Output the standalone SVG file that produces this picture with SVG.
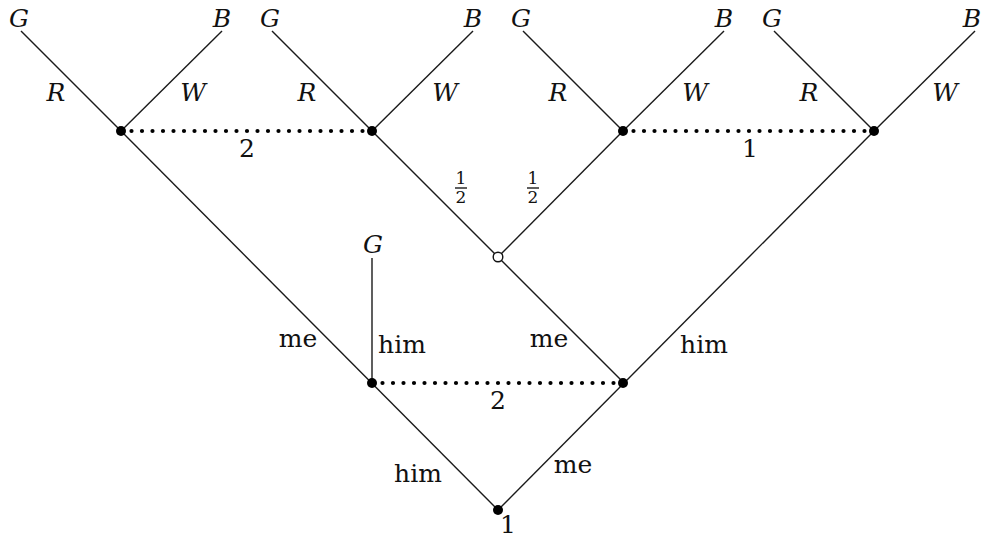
<svg xmlns="http://www.w3.org/2000/svg" width="985" height="540" viewBox="0 0 985 540">
<style>
.e{stroke:#1a1a1a;stroke-width:1.4;fill:none}
.d{stroke:#000;stroke-width:4.2;stroke-linecap:round;stroke-dasharray:0 10.5;fill:none}
.t{font-family:'DejaVu Serif','Liberation Serif',serif;font-size:25px;fill:#111;text-anchor:middle}
.i{font-style:italic}
.f{font-size:17px}
.dot{fill:#000}
</style>
<rect width="985" height="540" fill="#fff"/>
<g id="connectors">
<line class="e" x1="121" y1="131" x2="21" y2="31"/>
<line class="e" x1="121" y1="131" x2="222" y2="31"/>
<line class="e" x1="372" y1="131" x2="272" y2="31"/>
<line class="e" x1="372" y1="131" x2="473" y2="31"/>
<line class="e" x1="623" y1="131" x2="523" y2="31"/>
<line class="e" x1="623" y1="131" x2="724" y2="31"/>
<line class="e" x1="874" y1="131" x2="774" y2="31"/>
<line class="e" x1="874" y1="131" x2="975" y2="31"/>
<line class="e" x1="121" y1="131" x2="498" y2="510"/>
<line class="e" x1="874" y1="131" x2="498" y2="510"/>
<line class="e" x1="372" y1="131" x2="623" y2="382"/>
<line class="e" x1="623" y1="131" x2="498" y2="257"/>
<line class="e" x1="372" y1="258" x2="372" y2="383"/>
<line class="d" x1="121" y1="131" x2="372" y2="131"/>
<line class="d" x1="623" y1="131" x2="874" y2="131"/>
<line class="d" x1="372" y1="383" x2="623" y2="383"/>
<line class="e" x1="455" y1="188" x2="467" y2="188"/>
<line class="e" x1="527" y1="188" x2="539" y2="188"/>
</g>
<g id="n1"><circle class="dot" cx="121" cy="131" r="5"/><text class="t i" x="19" y="27">G</text><text class="t i" x="222" y="27">B</text><text class="t i" x="56" y="101">R</text><text class="t i" x="193" y="101">W</text></g>
<g id="n2"><circle class="dot" cx="372" cy="131" r="5"/><text class="t i" x="270" y="27">G</text><text class="t i" x="473" y="27">B</text><text class="t i" x="307" y="101">R</text><text class="t i" x="445" y="101">W</text></g>
<g id="n3"><circle class="dot" cx="623" cy="131" r="5"/><text class="t i" x="521" y="27">G</text><text class="t i" x="724" y="27">B</text><text class="t i" x="558" y="101">R</text><text class="t i" x="695" y="101">W</text></g>
<g id="n4"><circle class="dot" cx="874" cy="131" r="5"/><text class="t i" x="772" y="27">G</text><text class="t i" x="972" y="27">B</text><text class="t i" x="809" y="101">R</text><text class="t i" x="945" y="101">W</text></g>
<g id="chance"><circle cx="498" cy="257" r="4.8" fill="#fff" stroke="#111" stroke-width="1.4"/></g>
<g id="left"><circle class="dot" cx="372" cy="383" r="5"/><text class="t i" x="373" y="253">G</text></g>
<g id="right"><circle class="dot" cx="623" cy="383" r="5"/></g>
<g id="root"><circle class="dot" cx="498" cy="510" r="5"/><text class="t" x="508" y="533">1</text></g>
<g id="labels">
<text class="t" x="247" y="157">2</text>
<text class="t" x="750" y="157">1</text>
<text class="t" x="498" y="409">2</text>
<text class="t f" x="461" y="184">1</text><text class="t f" x="461" y="203">2</text>
<text class="t f" x="533" y="184">1</text><text class="t f" x="533" y="203">2</text>
<text class="t" x="298" y="347">me</text>
<text class="t" x="402" y="353">him</text>
<text class="t" x="549" y="347">me</text>
<text class="t" x="704" y="353">him</text>
<text class="t" x="418" y="482">him</text>
<text class="t" x="573" y="473">me</text>
</g>
</svg>
